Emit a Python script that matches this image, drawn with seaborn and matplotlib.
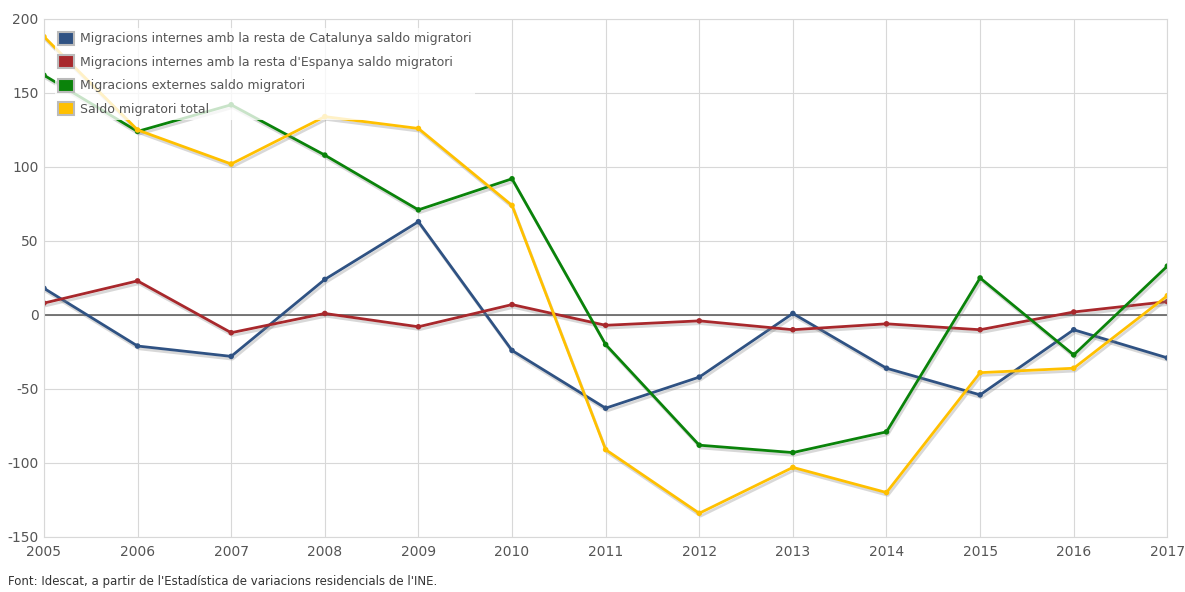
import matplotlib

matplotlib.use("Agg")
import matplotlib.pyplot as plt
import matplotlib.patheffects as pe
from matplotlib.patches import Patch
import pandas as pd
import seaborn as sns

years = list(range(2005, 2018))
catalunya = [18, -21, -28, 24, 63, -24, -63, -42, 1, -36, -54, -10, -29]
espanya = [8, 23, -12, 1, -8, 7, -7, -4, -10, -6, -10, 2, 9]
externes = [162, 124, 142, 108, 71, 92, -20, -88, -93, -79, 25, -27, 33]
total = [188, 125, 102, 134, 126, 74, -91, -134, -103, -120, -39, -36, 13]

series_names = [
    "Migracions internes amb la resta de Catalunya saldo migratori",
    "Migracions internes amb la resta d'Espanya saldo migratori",
    "Migracions externes saldo migratori",
    "Saldo migratori total",
]
colors = ["#2F5283", "#A8282C", "#0A830A", "#FFC000"]

df = pd.concat(
    [
        pd.DataFrame({"year": years, "value": vals, "series": name})
        for name, vals in zip(series_names, [catalunya, espanya, externes, total])
    ]
)

sns.set_style("white")
plt.rcParams["font.family"] = ["DejaVu Sans"]
plt.rcParams["axes.unicode_minus"] = False

fig = plt.figure(figsize=(11.85, 5.92), dpi=100)
ax = fig.add_axes([0.0371, 0.093, 0.948, 0.875])

sns.lineplot(
    data=df,
    x="year",
    y="value",
    hue="series",
    hue_order=series_names,
    palette=colors,
    marker="o",
    markersize=4,
    markeredgewidth=0,
    linewidth=2.0,
    legend=False,
    ax=ax,
    path_effects=[
        pe.SimpleLineShadow(offset=(1, -2), shadow_color="gray", alpha=0.3),
        pe.Normal(),
    ],
)

ax.axhline(0, color="#606060", lw=1.2, zorder=1)
ax.set_xlim(2005, 2017)
ax.set_ylim(-150, 200)
ax.set_xticks(years)
ax.set_yticks(range(-150, 201, 50))
ax.grid(True, color="#D8D8D8", lw=0.8)
ax.set_axisbelow(True)
for s in ax.spines.values():
    s.set_color("#D8D8D8")
ax.tick_params(length=0, labelsize=10, colors="#555555")
ax.tick_params(axis="x", pad=6)
ax.tick_params(axis="y", pad=4)
ax.set_xlabel("")
ax.set_ylabel("")

handles = [Patch(facecolor=c, edgecolor="#BBBBBB", linewidth=1.5) for c in colors]
leg = ax.legend(
    handles,
    series_names,
    loc="upper left",
    bbox_to_anchor=(0.004, 0.995),
    frameon=True,
    fontsize=9,
    handlelength=1.25,
    handleheight=1.25,
    handletextpad=0.45,
    labelspacing=0.78,
    borderpad=0.3,
    labelcolor="#555555",
)
leg.get_frame().set_facecolor("white")
leg.get_frame().set_alpha(0.78)
leg.get_frame().set_linewidth(0)

fig.text(
    0.007,
    0.012,
    "Font: Idescat, a partir de l'Estadística de variacions residencials de l'INE.",
    fontsize=8.5,
    color="#333333",
)

fig.savefig("out.png", dpi=100)
plt.close("all")
